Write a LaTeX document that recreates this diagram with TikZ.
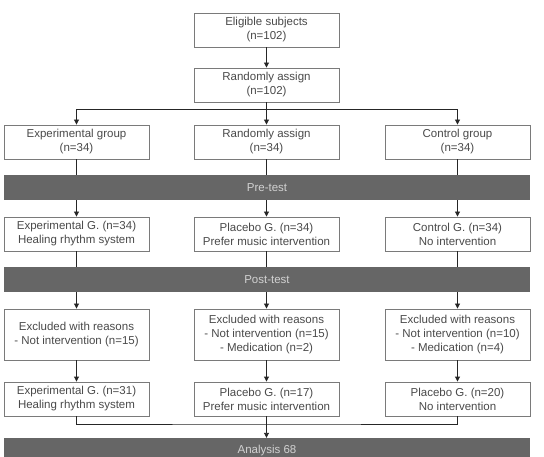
\documentclass[tikz,border=0pt]{standalone}
\usepackage{fontspec}
\setmainfont{Liberation Sans}
\usetikzlibrary{arrows.meta}
\definecolor{boxline}{HTML}{7A7A7A}
\definecolor{barfill}{HTML}{666666}
\definecolor{bartext}{HTML}{D2D2D2}
\definecolor{txt}{HTML}{4A4A4A}

\begin{document}
\begin{tikzpicture}[x=1pt,y=-1pt,%
  % common options for the white boxes:
  block/.style = {draw=boxline, fill=white, align=center, text=txt,
              minimum width=145pt, minimum height=34pt, inner sep=0,
              line width=0.9pt},
  % common options for the grey bars:
  bar/.style = {fill=barfill, text=bartext, minimum width=526pt,
              minimum height=25pt, inner sep=0},
  link/.style = {draw=black!85, line width=0.9pt},
  arr/.style = {link, -{Triangle[length=5pt,width=5pt]}},
  font=\fontsize{11.5}{14}\selectfont
	]
  \useasboundingbox (0,0) rectangle (544,457);

  \node[block] (elig) at (266.5,30) {Eligible subjects\\(n=102)};
  \node[block] (rand) at (266.5,85) {Randomly assign\\(n=102)};
  \coordinate (split) at (266.5,109);

  \node[block] (exp1) at (76.5,142) {Experimental group\\(n=34)};
  \node[block] (plc1) at (266.5,142) {Randomly assign\\(n=34)};
  \node[block] (ctl1) at (457.5,142) {Control group\\(n=34)};

  \node[bar] (pre) at (267,187.5) {Pre-test};

  \node[block] (exp2) at (76.5,234) {Experimental G. (n=34)\\Healing rhythm system};
  \node[block] (plc2) at (266.5,234) {Placebo G. (n=34)\\Prefer music intervention};
  \node[block] (ctl2) at (457.5,234) {Control G. (n=34)\\No intervention};

  \node[bar] (post) at (267,279.5) {Post-test};

  \node[block, minimum height=51pt] (exc1) at (76.5,334.5)
    {Excluded with reasons\\- Not intervention (n=15)};
  \node[block, minimum height=51pt] (exc2) at (266.5,334.5)
    {Excluded with reasons\\- Not intervention (n=15)\\- Medication (n=2)};
  \node[block, minimum height=51pt] (exc3) at (457.5,334.5)
    {Excluded with reasons\\- Not intervention (n=10)\\- Medication (n=4)};

  \node[block] (exp3) at (76.5,399) {Experimental G. (n=31)\\Healing rhythm system};
  \node[block] (plc3) at (266.5,399) {Placebo G. (n=17)\\Prefer music intervention};
  \node[block] (ctl3) at (457.5,399) {Placebo G. (n=20)\\No intervention};
  \coordinate (join) at (266.5,424);

  \node[bar, minimum height=26pt] (ana) at (267,451) {Analysis 68};

  % allocation
  \draw[arr] (elig) -- (rand);
  \draw[link] (rand) -- (split);
  \draw[arr] (split) -| (exp1);
  \draw[arr] (split) -- (plc1);
  \draw[arr] (split) -| (ctl1);

  % through the tests
  \foreach \a/\b/\c in {exp1/exp2/exc1, plc1/plc2/exc2, ctl1/ctl2/exc3} {
    \draw[link] (\a) -- (\a |- pre.north);
    \draw[arr] (\a |- pre.south) -- (\b);
    \draw[link] (\b) -- (\b |- post.north);
    \draw[arr] (\b |- post.south) -- (\c);
  }
  \draw[arr] (exc1) -- (exp3);
  \draw[arr] (exc2) -- (plc3);
  \draw[arr] (exc3) -- (ctl3);

  % analysis
  \draw[link] (exp3) |- (join) -| (ctl3);
  \draw[arr] (plc3) -- (plc3 |- ana.north);
\end{tikzpicture}
\end{document}
